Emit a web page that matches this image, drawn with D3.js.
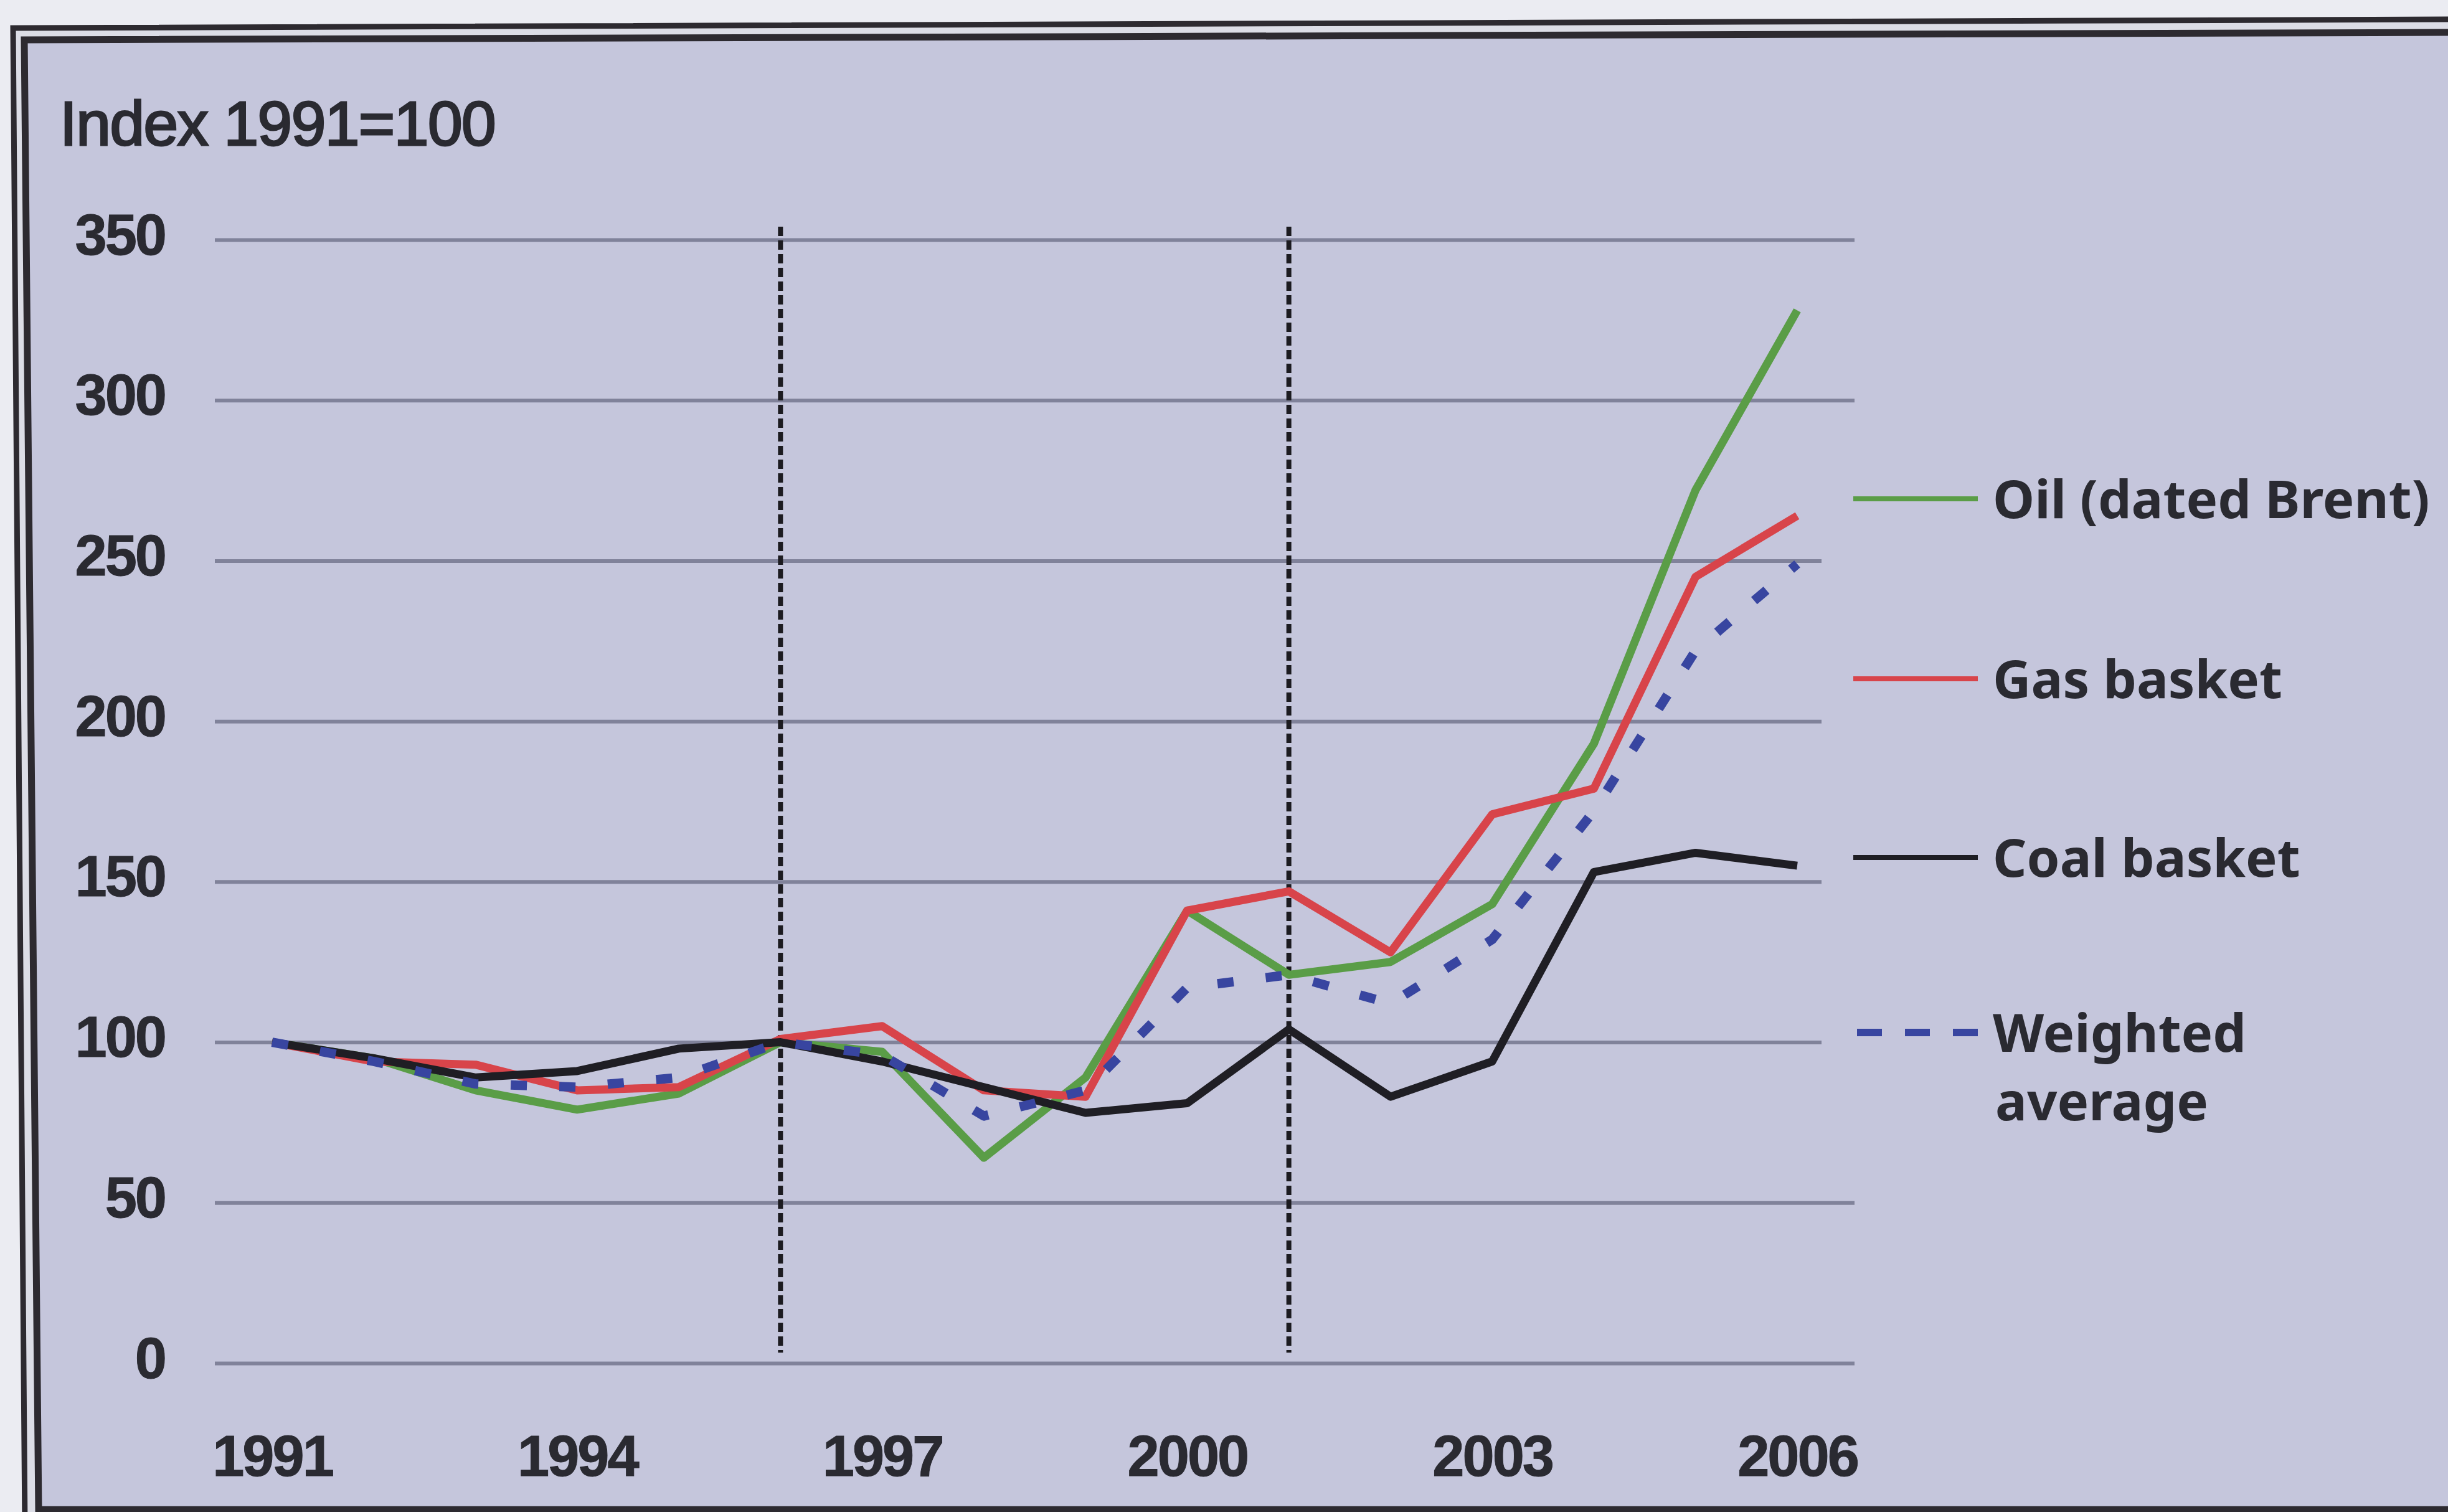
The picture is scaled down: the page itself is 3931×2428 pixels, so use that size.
<!DOCTYPE html>
<html>
<head>
<meta charset="utf-8">
<script src="https://cdn.jsdelivr.net/npm/d3@7"></script>
<style>
  html, body { margin: 0; padding: 0; background: #ebecf2; overflow: hidden; }
  svg { display: block; }
</style>
</head>
<body>
<svg id="chart" width="3931" height="2428"></svg>
<script>
// Energy price indices, 1991 = 100
const years = [1991, 1992, 1993, 1994, 1995, 1996, 1997, 1998, 1999, 2000, 2001, 2002, 2003, 2004, 2005, 2006];
const oilBrent   = [100, 95, 85, 79, 84, 100, 97, 64, 89, 141, 121, 125, 143, 193, 272, 328];
const gasBasket  = [100, 94, 93, 85, 86, 101, 105, 85, 83, 141, 147, 128, 171, 179, 245, 264];
const coalBasket = [100, 95, 89, 91, 98, 100, 94, 86, 78, 81, 104, 83, 94, 153, 159, 155];
const weightedAv = [100, 94, 87, 86, 89, 100, 96, 77, 85, 117, 121, 112, 132, 172, 222, 249];

const seriesNames  = ["Oil (dated Brent)", "Gas basket", "Coal basket", "Weighted average"];
const seriesColors = ["#5a9d47", "#d8444a", "#1f1e24", "#3845a0"];

const yTickValues = [0, 50, 100, 150, 200, 250, 300, 350];
const xTickYears  = [1991, 1994, 1997, 2000, 2003, 2006];
const markerYears = [1996, 2001];
const yAxisTitle  = "Index 1991=100";

const W = 3931, H = 2428;
const bg = "#c5c6dc";
const ink = "#2a2a31";

const svg = d3.select("#chart");

// Double-ruled frame (slightly skewed like a scanned page)
svg.append("path")
  .attr("d", "M21,45 L3945,31 L3945,2450 L40,2450 Z")
  .attr("fill", "#dcdde6").attr("stroke", "#2d2a30").attr("stroke-width", 9);
svg.append("path")
  .attr("d", "M39,64 L3945,52 L3945,2424 L62,2424 Z")
  .attr("fill", bg).attr("stroke", "#2d2a30").attr("stroke-width", 11);

// Scales
const x = d3.scaleLinear().domain([1991, 2006]).range([437, 2886]);
const y = d3.scaleLinear().domain([0, 350]).range([2189, 385]);

const gridLeft = 345, gridRight = 2978;

// Y axis with gridlines
const yAxis = svg.append("g")
  .attr("transform", `translate(${gridLeft},0)`)
  .call(d3.axisLeft(y).tickValues(yTickValues).tickSize(-(gridRight - gridLeft)).tickPadding(80));
yAxis.select(".domain").remove();
yAxis.selectAll(".tick line").attr("stroke", "#80829a").attr("stroke-width", 6);
yAxis.selectAll(".tick text")
  .attr("dy", "0.25em")
  .attr("fill", ink)
  .attr("stroke", ink).attr("stroke-width", 1)
  .style("font-family", "'Liberation Sans', Arial, sans-serif")
  .style("font-weight", "bold")
  .style("font-size", "92px")
  .style("letter-spacing", "-3px");

// X axis labels
const xAxis = svg.append("g")
  .attr("transform", `translate(0,${y(0)})`)
  .call(d3.axisBottom(x).tickValues(xTickYears).tickSize(0).tickPadding(116).tickFormat(d3.format("d")));
xAxis.select(".domain").remove();
xAxis.selectAll(".tick text")
  .attr("fill", ink)
  .attr("stroke", ink).attr("stroke-width", 1)
  .style("font-family", "'Liberation Sans', Arial, sans-serif")
  .style("font-weight", "bold")
  .style("font-size", "92px")
  .style("letter-spacing", "-3px");

// Axis title
svg.append("text")
  .attr("x", 96).attr("y", 233)
  .attr("fill", ink)
  .attr("stroke", ink).attr("stroke-width", 3)
  .style("font-family", "'Liberation Sans', Arial, sans-serif")
  .style("font-size", "100px")
  .style("letter-spacing", "-1.5px")
  .text(yAxisTitle);

// Legend panel hides the gridlines behind it
svg.append("rect")
  .attr("x", 2925).attr("y", 700).attr("width", W - 2925).attr("height", 1170)
  .attr("fill", bg);

// Vertical period markers
svg.append("g").selectAll("line")
  .data(markerYears)
  .join("line")
  .attr("x1", d => x(d)).attr("x2", d => x(d))
  .attr("y1", 364).attr("y2", 2172)
  .attr("stroke", "#1c1b20").attr("stroke-width", 8)
  .attr("stroke-dasharray", "15,7");

// Series lines
const seriesValues = [oilBrent, gasBasket, coalBasket, weightedAv];
const line = d3.line().x(d => x(d[0])).y(d => y(d[1]));

seriesValues.forEach((vals, i) => {
  const pts = years.map((yr, k) => [yr, vals[k]]);
  const dashed = i === 3;
  svg.append("path")
    .attr("d", line(pts))
    .attr("fill", "none")
    .attr("stroke", seriesColors[i])
    .attr("stroke-width", dashed ? 15 : 13)
    .attr("stroke-linejoin", "round")
    .attr("stroke-dasharray", dashed ? "26,52" : null);
});

// Legend
const legendLineY = [801, 1090, 1377, 1658];
const legend = svg.append("g");
seriesNames.forEach((name, i) => {
  const dashed = i === 3;
  legend.append("line")
    .attr("x1", dashed ? 2982 : 2976).attr("x2", 3176)
    .attr("y1", legendLineY[i]).attr("y2", legendLineY[i])
    .attr("stroke", seriesColors[i])
    .attr("stroke-width", dashed ? 12 : 8)
    .attr("stroke-dasharray", dashed ? "40,37" : null);
  const t = legend.append("text")
    .attr("x", 3200)
    .attr("y", legendLineY[i] + 31)
    .attr("fill", ink)
    .style("font-family", "'Noto Sans', sans-serif")
    .style("font-weight", "bold")
    .style("font-size", "85px");
  if (dashed) {
    const parts = name.split(" ");
    t.append("tspan").attr("x", 3200).text(parts[0]);
    t.append("tspan").attr("x", 3204).attr("dy", 110).text(parts[1]);
  } else {
    t.text(name);
  }
});
</script>
</body>
</html>
